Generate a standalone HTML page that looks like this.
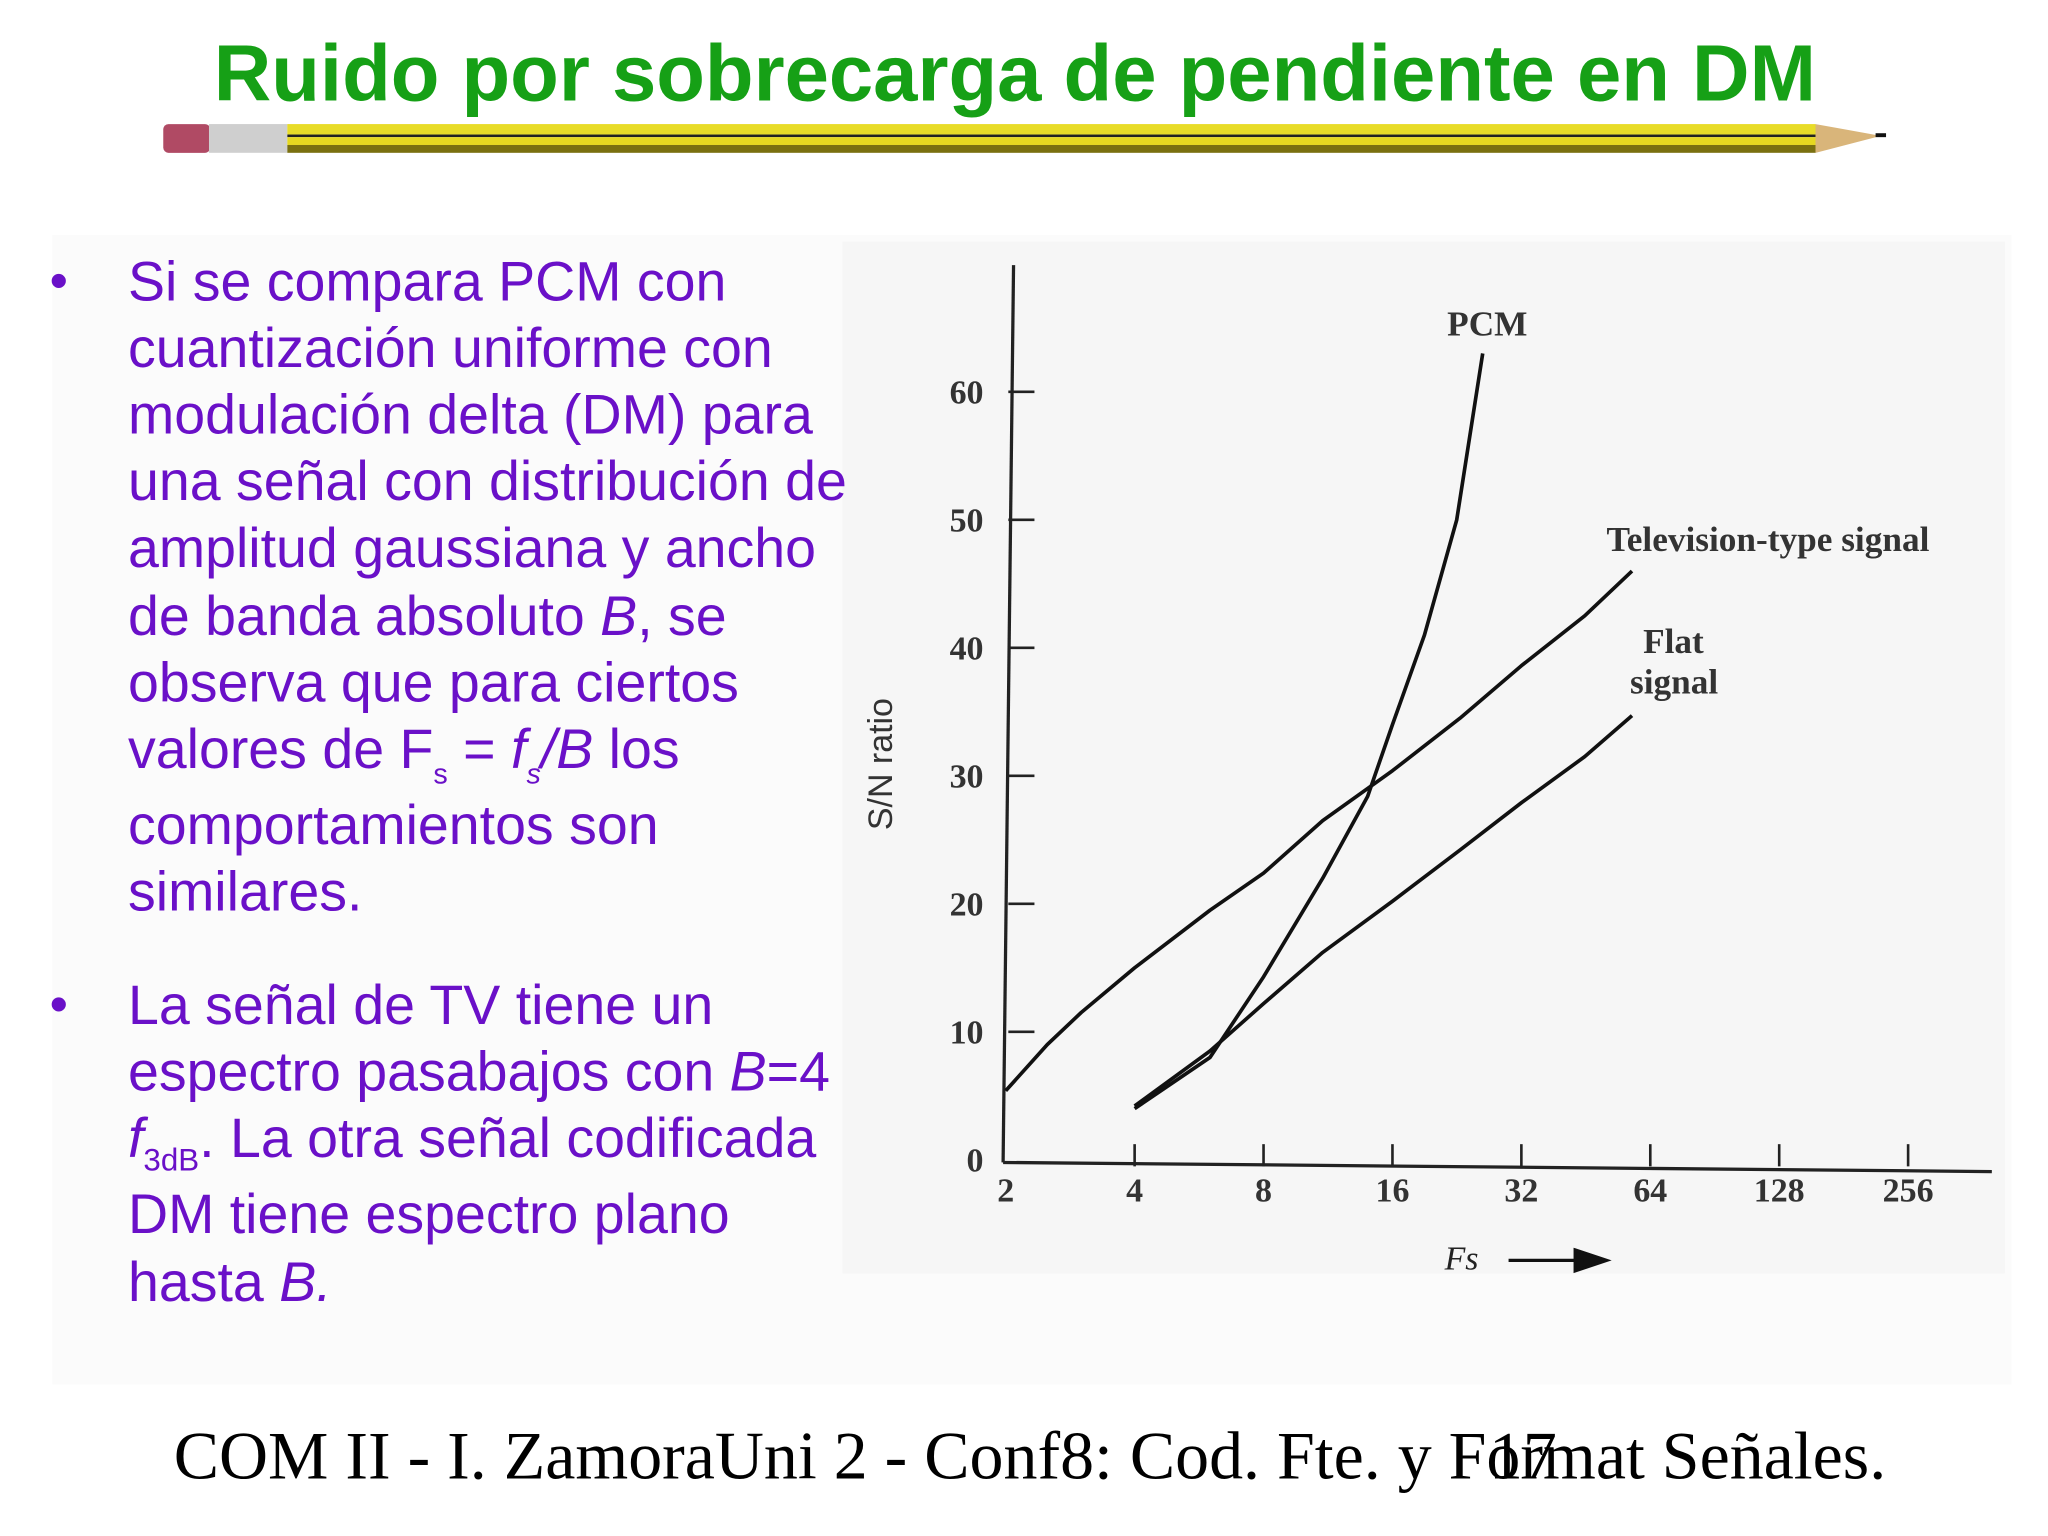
<!DOCTYPE html>
<html><head><meta charset="utf-8"><style>
html,body{margin:0;padding:0;background:#fff;}
svg{display:block;}
</style></head><body>
<svg width="2048" height="1536" viewBox="0 0 1568 1176" xmlns="http://www.w3.org/2000/svg">
<rect x="0" y="0" width="1568" height="1176" fill="#ffffff"/>
<rect x="40" y="180" width="1500" height="880" fill="#fbfbfb"/>
<rect x="645" y="185" width="890" height="790" fill="#f6f6f6"/>
<text x="777" y="77" text-anchor="middle" font-family="Liberation Sans, sans-serif" font-weight="bold" font-size="61" fill="#16a016">Ruido por sobrecarga de pendiente en DM</text>
<g>
<rect x="125" y="95" width="36" height="22" rx="4" fill="#b04a64"/>
<rect x="160" y="95" width="60" height="22" fill="#cfcfcf"/>
<rect x="220" y="95" width="1170" height="8" fill="#e8dc28"/>
<rect x="220" y="103" width="1170" height="2" fill="#222"/>
<rect x="220" y="105" width="1170" height="6" fill="#e6d820"/>
<rect x="220" y="111" width="1170" height="6" fill="#7a7010"/>
<polygon points="1390,95 1440,104 1390,117" fill="#d9b57a"/>
<rect x="1436" y="102" width="8" height="3" fill="#111"/>
</g>
<g font-family="Liberation Sans, sans-serif" font-size="42.5" fill="#6a10c8">
<text x="38" y="228" font-size="40">•</text>
<text x="98" y="230">Si se compara PCM con</text>
<text x="98" y="281">cuantización uniforme con</text>
<text x="98" y="332">modulación delta (DM) para</text>
<text x="98" y="383">una señal con distribución de</text>
<text x="98" y="434">amplitud gaussiana y ancho</text>
<text x="98" y="486">de banda absoluto <tspan font-style="italic">B</tspan>, se</text>
<text x="98" y="537">observa que para ciertos</text>
<text x="98" y="588">valores de F<tspan font-size="22" dy="12">s</tspan><tspan dy="-12"> = </tspan><tspan font-style="italic">f<tspan font-size="22" dy="12">s</tspan><tspan dy="-12">/B</tspan></tspan> los</text>
<text x="98" y="646">comportamientos son</text>
<text x="98" y="697">similares.</text>
<text x="38" y="782" font-size="40">•</text>
<text x="98" y="784">La señal de TV tiene un</text>
<text x="98" y="835">espectro pasabajos con <tspan font-style="italic">B</tspan>=4</text>
<text x="98" y="886"><tspan font-style="italic">f</tspan><tspan font-size="24" dy="10">3dB</tspan><tspan dy="-10">. La otra señal codificada</tspan></text>
<text x="98" y="944">DM tiene espectro plano</text>
<text x="98" y="996">hasta <tspan font-style="italic">B.</tspan></text>
</g>
<g id="chart" font-family="Liberation Serif, serif" fill="#222"></g>
<text x="133" y="1132" font-family="Liberation Serif, serif" font-size="52" fill="#000">COM II - I. ZamoraUni 2 - Conf8: Cod. Fte. y Format Señales.</text>
<text x="1140" y="1132" font-family="Liberation Serif, serif" font-size="52" fill="#000">17</text>
</svg>
<script>
const xTicks = [2, 4, 8, 16, 32, 64, 128, 256];
const yTicks = [0, 10, 20, 30, 40, 50, 60];
const tvX = [2, 2.5, 3, 4, 6, 8, 11, 16, 23, 32, 45, 58];
const tvY = [5.4, 9, 11.5, 15, 19.5, 22.4, 26.5, 30.4, 34.5, 38.6, 42.5, 46];
const flatX = [4, 6, 8, 11, 16, 23, 32, 45, 58];
const flatY = [4.2, 8.5, 12.2, 16.2, 20.2, 24.2, 27.9, 31.5, 34.7];
const pcmX = [4, 6, 8, 11, 14, 16, 19, 22.6, 26];
const pcmY = [4, 8, 14.3, 22, 28.4, 34, 41, 50, 63];
const NS = 'http://www.w3.org/2000/svg';
const g = document.getElementById('chart');
function sx(v){ return 770 + Math.log2(v/2) * 98.7; }
function sy(v){ return 888 - v * 9.8; }
function el(tag, attrs){ const e = document.createElementNS(NS, tag); for (const k in attrs) e.setAttribute(k, attrs[k]); g.appendChild(e); return e; }
let a = el('line', {x1:776, y1:203, x2:768, y2:890, stroke:'#222', 'stroke-width':2.5});


a = el('line', {x1:768, y1:890, x2:1525, y2:897, stroke:'#222', 'stroke-width':2.5});


yTicks.forEach(v => {
  const y = sy(v);
  if (v > 0) {
    const t = el('line', {x1:772, y1:y, x2:792, y2:y, stroke:'#222', 'stroke-width':2});
    
    
  }
  const l = el('text', {x:753, y:y+9, 'text-anchor':'end', 'font-size':26, 'font-weight':'bold', fill:'#333'});
  l.textContent = v;
  
  
});
xTicks.forEach(v => {
  const x = sx(v);
  if (v > 2) {
    const t = el('line', {x1:x, y1:876, x2:x, y2:893, stroke:'#222', 'stroke-width':2});
    
    
  }
  const l = el('text', {x:x, y:920, 'text-anchor':'middle', 'font-size':26, 'font-weight':'bold', fill:'#333'});
  l.textContent = v;
  
  
});
function series(xs, ys, name){
  const d = xs.map((v,i) => (i?'L':'M') + sx(v).toFixed(1) + ',' + sy(ys[i]).toFixed(1)).join(' ');
  const p = el('path', {d:d, fill:'none', stroke:'#111', 'stroke-width':2.8, 'stroke-linejoin':'round'});
  
  
}
series(tvX, tvY, 'tv-signal-line');
series(flatX, flatY, 'flat-signal-line');
series(pcmX, pcmY, 'pcm-line');
function label(x, y, txt, name){
  const t = el('text', {x:x, y:y, 'font-size':27, 'font-weight':'bold', fill:'#333'});
  t.textContent = txt;
  
  
}
label(1108, 257, 'PCM', 'pcm-label');
label(1230, 422, 'Television-type signal', 'tv-label');
label(1258, 500, 'Flat', 'flat-label-1');
label(1248, 531, 'signal', 'flat-label-2');
const yt = el('text', {x:0, y:0, 'font-size':26, 'font-family':'Liberation Sans, sans-serif', 'text-anchor':'middle', fill:'#333', transform:'translate(683,585) rotate(-90)'});
yt.textContent = 'S/N ratio';


const xt = el('text', {x:1106, y:972, 'font-size':26, 'font-style':'italic'});
xt.textContent = 'Fs';


const ar = el('path', {d:'M1155,965 L1212,965 M1206,957 L1230,965 L1206,973 Z', stroke:'#111', 'stroke-width':2.5, fill:'#111'});


</script>
</body></html>
